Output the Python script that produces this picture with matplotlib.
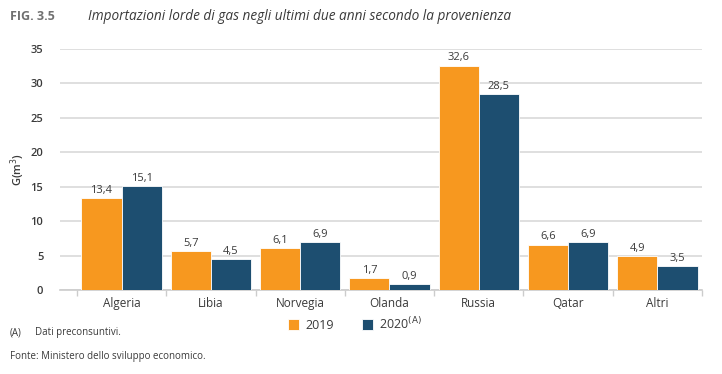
import matplotlib
matplotlib.use("Agg")
import matplotlib.pyplot as plt
import numpy as np

categories = ["Algeria", "Libia", "Norvegia", "Olanda", "Russia", "Qatar", "Altri"]
values_2019 = [13.4, 5.7, 6.1, 1.7, 32.6, 6.6, 4.9]
values_2020 = [15.1, 4.5, 6.9, 0.9, 28.5, 6.9, 3.5]
yticks = [0, 5, 10, 15, 20, 25, 30, 35]

ORANGE = "#F7981F"
BLUE = "#1D4E70"
TXT = "#3a3a3a"

plt.rcParams['font.family'] = ['Open Sans', 'DejaVu Sans']

fig = plt.figure(figsize=(7.22, 3.74), dpi=100)
ax = fig.add_axes([60/722, 1-290/374, (702-60)/722, (290-49)/374])

x = np.arange(len(categories))
w = 0.45
b1 = ax.bar(x - w/2, values_2019, w, color=ORANGE, edgecolor="white", linewidth=0.6, zorder=3, label="2019")
b2 = ax.bar(x + w/2, values_2020, w, color=BLUE, edgecolor="white", linewidth=0.6, zorder=3, label="2020$^{\\mathrm{(A)}}$")

def fmt(v):
    return f"{v:.1f}".replace(".", ",")

for bars, vals in ((b1, values_2019), (b2, values_2020)):
    for r, v in zip(bars, vals):
        ax.text(r.get_x() + r.get_width()/2, v + 0.3, fmt(v), ha="center", va="bottom",
                fontsize=8, color=TXT, zorder=4)

ax.set_xlim(-0.69, 6.5)
ax.set_ylim(0, 35)
ax.set_yticks(yticks)
ax.set_yticklabels([str(t) for t in yticks], fontsize=8, color=TXT, fontweight="semibold")
ax.yaxis.grid(True, color="#d9d9d9", linewidth=1.2, zorder=0)
ax.tick_params(axis="y", length=0, pad=12)
ax.set_xticks(x)
ax.set_xticklabels(categories, fontsize=8.5, color=TXT, fontweight="medium")
ax.tick_params(axis="x", length=0, pad=5)
# category separators
ax.set_xticks(np.arange(-0.5, len(categories)), minor=True)
ax.tick_params(axis="x", which="minor", length=4, color="#cccccc", width=1)
for s in ["top", "right", "left"]:
    ax.spines[s].set_visible(False)
ax.spines["bottom"].set_color("#cccccc")
ax.spines["bottom"].set_linewidth(1.2)
ax.set_ylabel("G(m$^3$)", fontsize=8, color=TXT, fontweight="semibold")
ax.yaxis.set_label_coords(-0.052, 0.5)

leg = fig.legend(handles=[b1, b2], loc="center", bbox_to_anchor=(355/722, 1-324/374), ncol=2,
                 frameon=False, fontsize=9, handlelength=0.9, handleheight=0.9,
                 columnspacing=2.2, handletextpad=0.5)
for t in leg.get_texts():
    t.set_color(TXT)

fig.text(10/722, 1-17/374, "FIG. 3.5", fontsize=9, fontweight="bold", color="#707070", va="center")
fig.text(88/722, 1-17/374, "Importazioni lorde di gas negli ultimi due anni secondo la provenienza",
         fontsize=9.8, style="italic", color=TXT, va="center")
fig.text(10/722, 1-333/374, "(A)", fontsize=7, color=TXT, va="center")
fig.text(35/722, 1-333/374, "Dati preconsuntivi.", fontsize=7, color=TXT, va="center")
fig.text(10/722, 1-357/374, "Fonte: Ministero dello sviluppo economico.", fontsize=7, color=TXT, va="center")

fig.savefig("out.png", dpi=100)
